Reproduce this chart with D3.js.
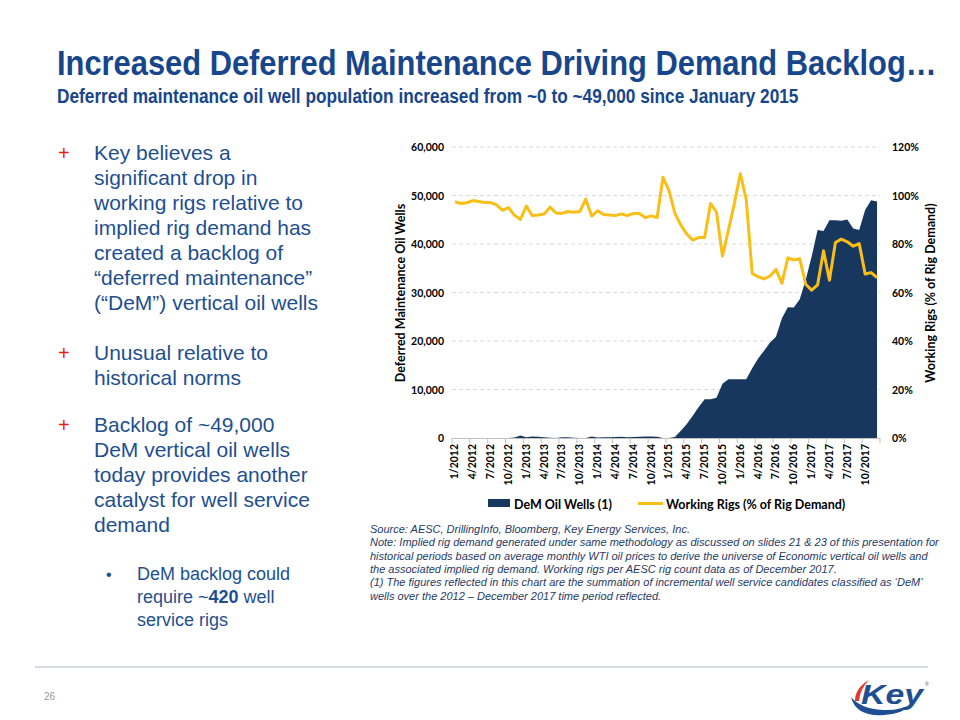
<!DOCTYPE html>
<html>
<head>
<meta charset="utf-8">
<script src="https://cdn.jsdelivr.net/npm/d3@7"></script>
<style>
  body { margin: 0; background: #fff; }
  svg { display: block; }
</style>
</head>
<body>
<svg id="chart" width="960" height="720"></svg>
<script>
// ---------- DATA ----------
const months = [
  "1/2012","2/2012","3/2012","4/2012","5/2012","6/2012","7/2012","8/2012","9/2012","10/2012","11/2012","12/2012",
  "1/2013","2/2013","3/2013","4/2013","5/2013","6/2013","7/2013","8/2013","9/2013","10/2013","11/2013","12/2013",
  "1/2014","2/2014","3/2014","4/2014","5/2014","6/2014","7/2014","8/2014","9/2014","10/2014","11/2014","12/2014",
  "1/2015","2/2015","3/2015","4/2015","5/2015","6/2015","7/2015","8/2015","9/2015","10/2015","11/2015","12/2015",
  "1/2016","2/2016","3/2016","4/2016","5/2016","6/2016","7/2016","8/2016","9/2016","10/2016","11/2016","12/2016",
  "1/2017","2/2017","3/2017","4/2017","5/2017","6/2017","7/2017","8/2017","9/2017","10/2017","11/2017","12/2017"
];
// Deferred maintenance oil wells (left axis)
const demWells = [
  0,0,0,0,0,0,0,0,0,0,100,500,
  150,300,250,150,50,0,150,150,50,0,0,300,
  100,150,150,200,250,150,200,250,300,300,250,0,
  0,200,1500,2900,4600,6400,8000,8000,8300,11200,12100,12100,
  12100,12100,14400,16400,18000,19700,20900,24700,26950,26900,28600,32600,
  37400,42900,42700,44900,44900,44800,45050,43200,42900,47000,49000,48750
];
// Working rigs, % of rig demand (right axis)
const workingRigs = [
  97.4,96.7,97.0,97.9,97.5,97.1,97.1,96.1,93.9,95.0,91.9,90.1,
  95.6,91.7,92.0,92.4,95.2,92.8,92.6,93.4,93.1,93.4,98.5,91.5,
  93.7,92.2,92.0,91.7,92.4,91.7,92.6,92.6,90.9,91.6,90.9,107.5,
  102.0,92.6,87.8,84.1,81.6,82.7,82.7,96.7,93.1,75.0,85.7,96.7,
  109.0,98.3,67.9,66.5,65.6,66.8,69.5,63.8,74.3,73.4,73.9,63.4,
  61.0,63.1,77.2,65.1,80.6,82.0,80.9,79.1,80.2,67.6,68.2,66.2
];
const leftTicks = [0,10000,20000,30000,40000,50000,60000];
const rightTicks = [0,20,40,60,80,100,120];
const seriesNames = ["DeM Oil Wells (1)", "Working Rigs (% of Rig Demand)"];

const titleText = "Increased Deferred Maintenance Driving Demand Backlog\u2026";
const subtitleText = "Deferred maintenance oil well population increased from ~0 to ~49,000 since January 2015";

const bullets = [
  {lines: ["Key believes a","significant drop in","working rigs relative to","implied rig demand has","created a backlog of","\u201Cdeferred maintenance\u201D","(\u201CDeM\u201D) vertical oil wells"]},
  {lines: ["Unusual relative to","historical norms"]},
  {lines: ["Backlog of ~49,000","DeM vertical oil wells","today provides another","catalyst for well service","demand"]}
];
const notes = [
  "Source: AESC, DrillingInfo, Bloomberg, Key Energy Services, Inc.",
  "Note: Implied rig demand generated under same methodology as discussed on slides 21 & 23 of this presentation for",
  "historical periods based on average monthly WTI oil prices to derive the universe of Economic vertical oil wells and",
  "the associated implied rig demand. Working rigs per AESC rig count data as of December 2017.",
  "(1) The figures reflected in this chart are the summation of incremental well service candidates classified as \u2018DeM\u2019",
  "wells over the 2012 \u2013 December 2017 time period reflected."
];

// ---------- STYLE ----------
const NAVY = "#17375e";
const GOLD = "#f9bf17";
const TITLE_BLUE = "#17468c";
const TEXT_BLUE = "#1d4f91";
const chartFont = "Lato, 'Open Sans', sans-serif";
const narrowFont = "'Liberation Sans Narrow','Liberation Sans',Arial,sans-serif";

const svg = d3.select("#chart");
svg.append("rect").attr("width",960).attr("height",720).attr("fill","#fff");

// Title & subtitle: condensed by horizontal scaling to the reference width
function condensed(txt, x, y, size, targetW) {
  const t = svg.append("text").attr("x",0).attr("y",0)
    .attr("font-family",narrowFont).attr("font-weight","bold")
    .attr("font-size",size).attr("fill",TITLE_BLUE).text(txt);
  const w = t.node().getComputedTextLength();
  t.attr("transform",`translate(${x},${y}) scale(${targetW/w},1)`);
}
condensed(titleText, 57, 75, 35, 880);
condensed(subtitleText, 57, 103, 20, 742);

// Bullets
const bulletStarts = [160, 360, 432];
bullets.forEach((b, bi) => {
  const y0 = bulletStarts[bi];
  svg.append("text").attr("x",58).attr("y",y0)
    .attr("font-family","'Liberation Sans',Arial,sans-serif")
    .attr("font-size",20).attr("fill","#e2231a").text("+");
  b.lines.forEach((l, li) => {
    svg.append("text").attr("x",94).attr("y",y0 + li*25)
      .attr("font-family","'Liberation Sans',Arial,sans-serif")
      .attr("font-size",21).attr("fill",TEXT_BLUE).text(l);
  });
});
// Sub bullet
svg.append("text").attr("x",106).attr("y",580)
  .attr("font-family","'Liberation Sans',Arial,sans-serif")
  .attr("font-size",16).attr("fill",TEXT_BLUE).text("\u2022");
const sub = svg.append("g").attr("font-family","'Liberation Sans',Arial,sans-serif")
  .attr("font-size",18).attr("fill",TEXT_BLUE);
sub.append("text").attr("x",137).attr("y",580).text("DeM backlog could");
const t2 = sub.append("text").attr("x",137).attr("y",603);
t2.append("tspan").text("require ~");
t2.append("tspan").attr("font-weight","bold").text("420");
t2.append("tspan").text(" well");
sub.append("text").attr("x",137).attr("y",626).text("service rigs");

// ---------- CHART ----------
const plot = {left: 452, right: 880, top: 147, bottom: 438};
const x = d3.scaleBand().domain(d3.range(months.length)).range([plot.left, plot.right]).padding(0);
const cx = i => x(i) + x.bandwidth()/2;
const yL = d3.scaleLinear().domain([0,60000]).range([plot.bottom, plot.top]);
const yR = d3.scaleLinear().domain([0,120]).range([plot.bottom, plot.top]);

// gridlines
svg.append("g").selectAll("line").data(leftTicks.filter(d=>d>0)).join("line")
  .attr("x1",plot.left).attr("x2",plot.right)
  .attr("y1",d=>yL(d)).attr("y2",d=>yL(d))
  .attr("stroke","#d9d9d9").attr("stroke-width",1).attr("stroke-dasharray","4,3");

// area
const area = d3.area().x((d,i)=>cx(i)).y0(yL(0)).y1(d=>yL(d));
svg.append("path").datum(demWells).attr("d",area).attr("fill",NAVY);

// line
const line = d3.line().x((d,i)=>cx(i)).y(d=>yR(d));
svg.append("path").datum(workingRigs).attr("d",line)
  .attr("fill","none").attr("stroke",GOLD).attr("stroke-width",3).attr("stroke-linejoin","round");

// bottom axis line + ticks
svg.append("line").attr("x1",plot.left).attr("x2",plot.right)
  .attr("y1",plot.bottom+0.5).attr("y2",plot.bottom+0.5).attr("stroke","#bfbfbf");
const tickIdx = d3.range(0, months.length+1, 3);
svg.append("g").selectAll("line").data(tickIdx).join("line")
  .attr("x1",i=> i<months.length ? x(i) : plot.right).attr("x2",i=> i<months.length ? x(i) : plot.right)
  .attr("y1",plot.bottom).attr("y2",plot.bottom+5).attr("stroke","#bfbfbf");

// x labels
svg.append("g").selectAll("text").data(d3.range(0, months.length, 3)).join("text")
  .attr("transform", i => `translate(${cx(i)+3.5},${plot.bottom+6}) rotate(-90)`)
  .attr("text-anchor","end")
  .attr("font-family",chartFont).attr("font-weight","bold").attr("font-size",10.5).attr("fill","#000")
  .text(i=>months[i]);

// left axis labels
const fmt = d3.format(",");
svg.append("g").selectAll("text").data(leftTicks).join("text")
  .attr("x",444).attr("y",d=>yL(d)+4).attr("text-anchor","end")
  .attr("font-family",chartFont).attr("font-weight","bold").attr("font-size",10.5).attr("fill","#000")
  .text(d=>fmt(d));
// right axis labels
svg.append("g").selectAll("text").data(rightTicks).join("text")
  .attr("x",892).attr("y",d=>yR(d)+4).attr("text-anchor","start")
  .attr("font-family",chartFont).attr("font-weight","bold").attr("font-size",10.5).attr("fill","#000")
  .text(d=>d+"%");

// axis titles
svg.append("text").attr("transform","translate(405,293) rotate(-90)").attr("text-anchor","middle")
  .attr("font-family",chartFont).attr("font-weight","bold").attr("font-size",12.5).attr("fill","#000")
  .text("Deferred Maintenance Oil Wells");
svg.append("text").attr("transform","translate(935,293) rotate(-90)").attr("text-anchor","middle")
  .attr("font-family",chartFont).attr("font-weight","bold").attr("font-size",12.5).attr("fill","#000")
  .text("Working Rigs (% of Rig Demand)");

// legend
svg.append("rect").attr("x",488).attr("y",499).attr("width",22).attr("height",8).attr("fill",NAVY);
svg.append("text").attr("x",514).attr("y",508.5)
  .attr("font-family",chartFont).attr("font-weight","bold").attr("font-size",12.5).attr("fill","#000")
  .text(seriesNames[0]);
svg.append("line").attr("x1",638).attr("x2",663).attr("y1",503.5).attr("y2",503.5)
  .attr("stroke",GOLD).attr("stroke-width",3);
svg.append("text").attr("x",666).attr("y",508.5)
  .attr("font-family",chartFont).attr("font-weight","bold").attr("font-size",12.5).attr("fill","#000")
  .text(seriesNames[1]);

// notes
svg.append("g").selectAll("text").data(notes).join("text")
  .attr("x",370).attr("y",(d,i)=>533 + i*13.3)
  .attr("font-family","'Liberation Sans',Arial,sans-serif").attr("font-style","italic")
  .attr("font-size",11).attr("fill","#1f3a66")
  .text(d=>d);

// footer
svg.append("line").attr("x1",35).attr("x2",928).attr("y1",667).attr("y2",667)
  .attr("stroke","#c8d2dc").attr("stroke-width",1.5);
svg.append("text").attr("x",44).attr("y",700)
  .attr("font-family",narrowFont)
  .attr("font-size",10).attr("fill","#999").text("26");

// logo
const logo = svg.append("g");
logo.append("path").attr("d","M855,701 Q855,688 869,680 Q860,689 859,701 Z").attr("fill","#e23a2e");
logo.append("path").attr("d","M851,697 Q856,717 884,715 Q903,714 914,703 Q900,711 883,710 Q861,709 851,697 Z").attr("fill","#1d4f91");
const key = logo.append("text").attr("x",0).attr("y",0)
  .attr("font-family","'Liberation Sans',Arial,sans-serif").attr("font-weight","bold").attr("font-style","italic")
  .attr("font-size",28).attr("fill","#1d4f91").text("Key");
const kw = key.node().getComputedTextLength();
key.attr("transform",`translate(861,704) scale(${62/kw},1)`);
logo.append("text").attr("x",925).attr("y",686)
  .attr("font-family","'Liberation Sans',Arial,sans-serif").attr("font-size",5).attr("fill","#1d4f91").text("\u00AE");
</script>
</body>
</html>
